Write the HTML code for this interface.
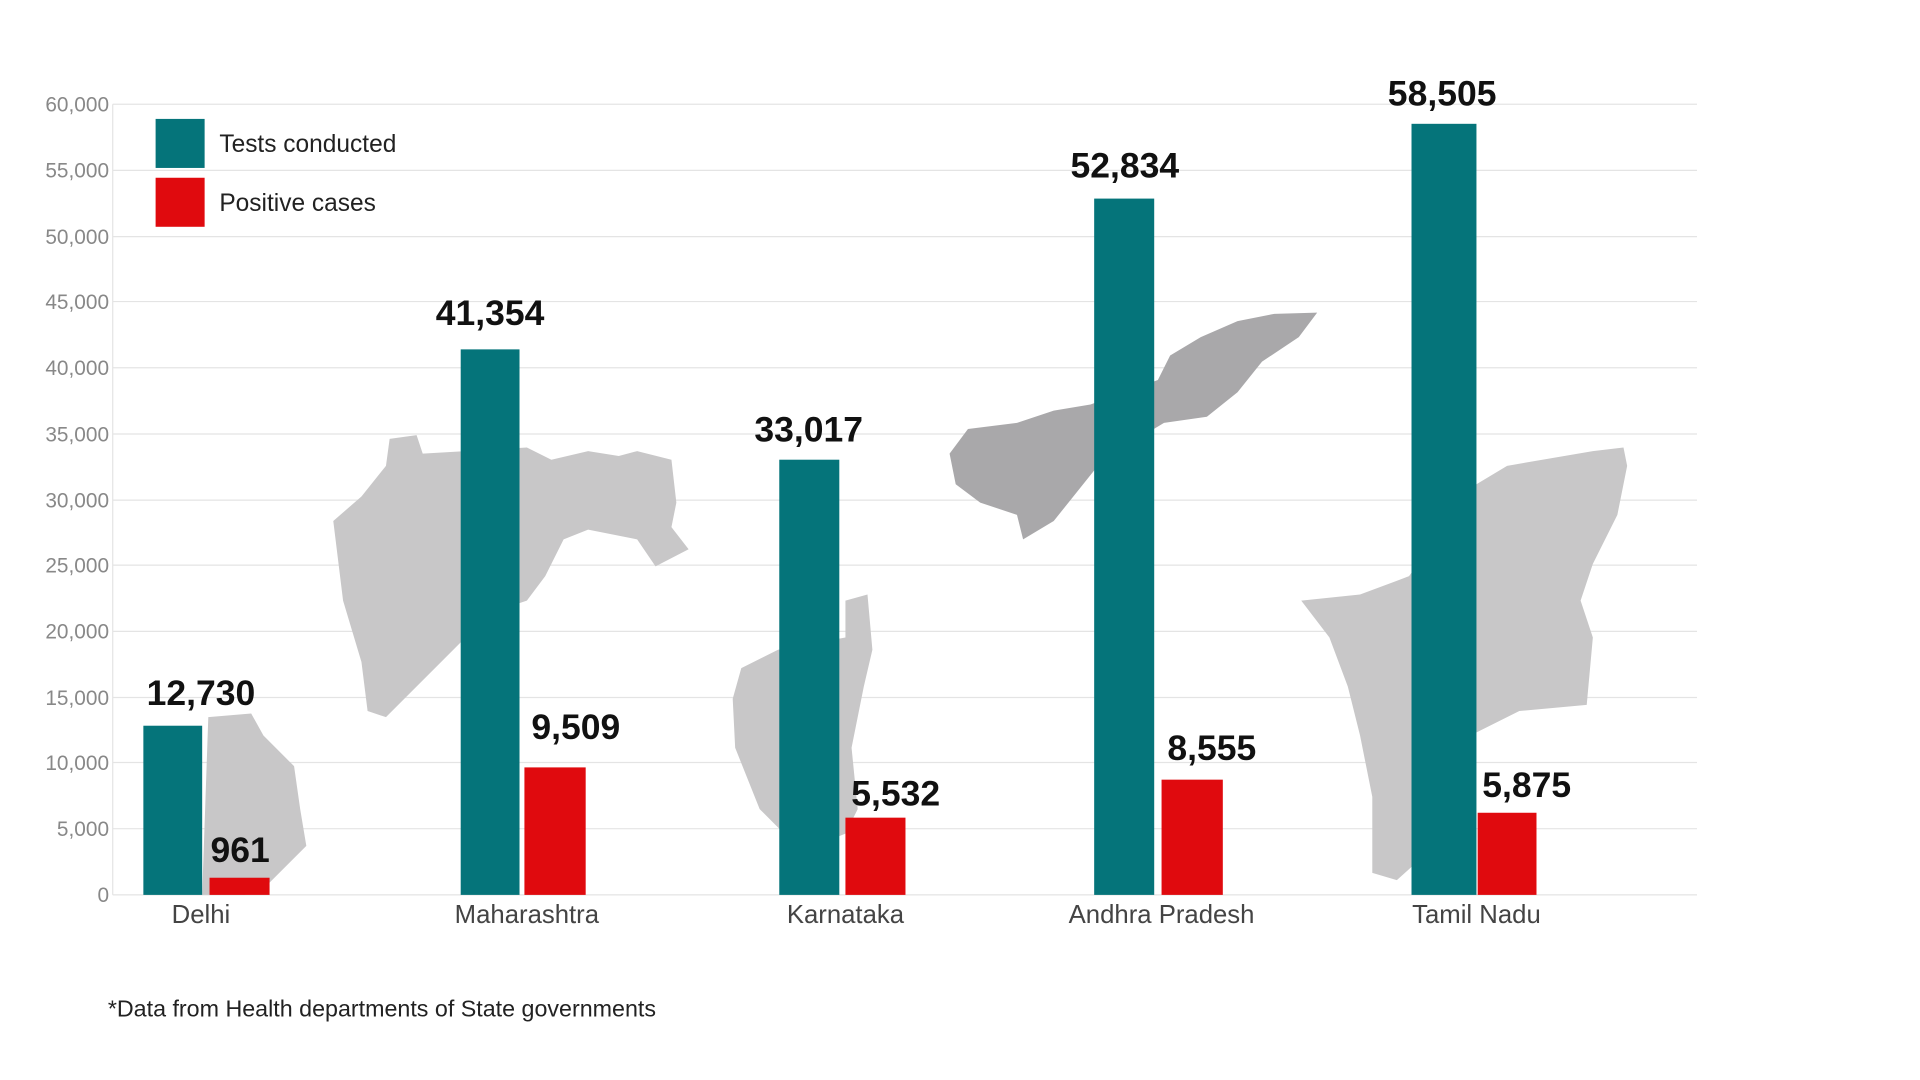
<!DOCTYPE html>
<html><head><style>
html,body{margin:0;padding:0;background:#fff;width:1920px;height:1080px;overflow:hidden}
svg{display:block}
text{font-family:"Liberation Sans",sans-serif}
</style></head><body>
<svg width="1920" height="1080" viewBox="0 0 1567 881" preserveAspectRatio="none">
<rect width="1567" height="881" fill="#fff"/>
<g stroke="#e4e4e4" stroke-width="1">
<line x1="92" x2="1385" y1="85" y2="85"/><line x1="92" x2="1385" y1="139" y2="139"/>
<line x1="92" x2="1385" y1="193" y2="193"/><line x1="92" x2="1385" y1="246" y2="246"/>
<line x1="92" x2="1385" y1="300" y2="300"/><line x1="92" x2="1385" y1="354" y2="354"/>
<line x1="92" x2="1385" y1="408" y2="408"/><line x1="92" x2="1385" y1="461" y2="461"/>
<line x1="92" x2="1385" y1="515" y2="515"/><line x1="92" x2="1385" y1="569" y2="569"/>
<line x1="92" x2="1385" y1="622" y2="622"/><line x1="92" x2="1385" y1="676" y2="676"/>
<line x1="92" x2="1385" y1="730" y2="730"/>
<line x1="92" x2="92" y1="85" y2="730"/>
</g>
<g fill="#888" font-size="17" text-anchor="end">
<text x="89" y="91">60,000</text><text x="89" y="145">55,000</text><text x="89" y="199">50,000</text>
<text x="89" y="252">45,000</text><text x="89" y="306">40,000</text><text x="89" y="360">35,000</text>
<text x="89" y="414">30,000</text><text x="89" y="467">25,000</text><text x="89" y="521">20,000</text>
<text x="89" y="575">15,000</text><text x="89" y="628">10,000</text><text x="89" y="682">5,000</text>
<text x="89" y="736">0</text>
</g>
<g fill="#c8c7c8">
<path d="M170 585 L205 582 L215 600 L240 625 L245 660 L250 690 L235 705 L220 720 L200 730 L165 730 Z"/>
<path d="M272 425 L295 405 L315 380 L318 358 L340 355 L345 370 L380 368 L430 365 L450 375 L480 368 L505 372 L520 368 L548 375 L552 410 L548 430 L562 448 L535 462 L520 440 L480 432 L460 440 L445 470 L430 490 L400 500 L360 540 L330 570 L315 585 L300 580 L295 540 L280 490 Z"/>
<path d="M690 490 L708 485 L712 530 L705 560 L695 610 L700 660 L690 680 L665 690 L640 680 L620 660 L600 610 L598 570 L605 545 L635 530 L690 520 Z"/>
<path d="M1062 490 L1110 485 L1150 470 L1205 395 L1230 380 L1300 368 L1325 365 L1328 380 L1320 420 L1300 460 L1290 490 L1300 520 L1295 575 L1240 580 L1200 600 L1170 640 L1160 700 L1140 718 L1120 712 L1120 650 L1110 600 L1100 560 L1085 520 Z"/>
</g>
<path fill="#a9a8aa" d="M775 370 L790 350 L830 345 L860 335 L890 330 L945 310 L955 290 L980 275 L1010 262 L1040 256 L1075 255 L1060 275 L1030 295 L1010 320 L985 340 L950 345 L900 375 L880 400 L860 425 L835 440 L830 420 L800 410 L780 395 Z"/>
<g fill="#05747a">
<rect x="117" y="592" width="48" height="138"/>
<rect x="376" y="285" width="48" height="445"/>
<rect x="636" y="375" width="49" height="355"/>
<rect x="893" y="162" width="49" height="568"/>
<rect x="1152" y="101" width="53" height="629"/>
</g>
<g fill="#e00a0e">
<rect x="171" y="716" width="49" height="14"/>
<rect x="428" y="626" width="50" height="104"/>
<rect x="690" y="667" width="49" height="63"/>
<rect x="948" y="636" width="50" height="94"/>
<rect x="1206" y="663" width="48" height="67"/>
</g>
<g font-weight="bold" font-size="29" fill="#111" text-anchor="middle">
<text x="164" y="575">12,730</text><text x="196" y="703">961</text>
<text x="400" y="265">41,354</text><text x="470" y="603">9,509</text>
<text x="660" y="360">33,017</text><text x="731" y="657">5,532</text>
<text x="918" y="145">52,834</text><text x="989" y="620">8,555</text>
<text x="1177" y="86">58,505</text><text x="1246" y="650">5,875</text>
</g>
<g font-size="21" fill="#444" text-anchor="middle">
<text x="164" y="753">Delhi</text><text x="430" y="753">Maharashtra</text>
<text x="690" y="753">Karnataka</text><text x="948" y="753">Andhra Pradesh</text>
<text x="1205" y="753">Tamil Nadu</text>
</g>
<rect x="127" y="97" width="40" height="40" fill="#05747a"/>
<rect x="127" y="145" width="40" height="40" fill="#e00a0e"/>
<g font-size="20" fill="#222">
<text x="179" y="124">Tests conducted</text><text x="179" y="172">Positive cases</text>
<text x="88" y="829" font-size="19">*Data from Health departments of State governments</text>
</g>
</svg>
</body></html>
